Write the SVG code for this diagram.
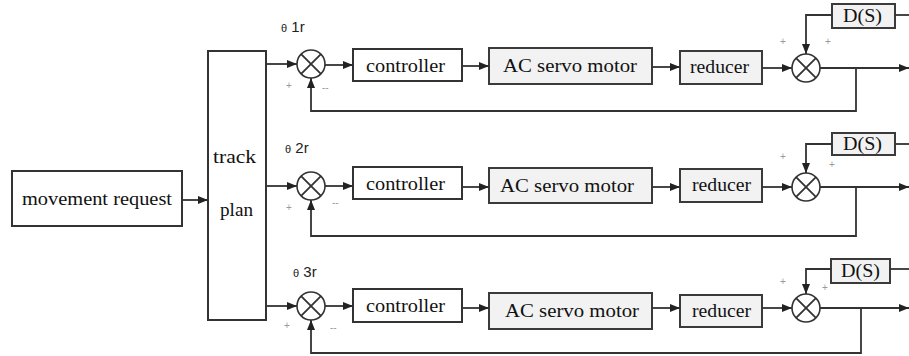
<svg xmlns="http://www.w3.org/2000/svg" width="909" height="356" viewBox="0 0 909 356">
<defs>
<marker id="ah" markerUnits="userSpaceOnUse" markerWidth="10" markerHeight="8" refX="10" refY="4" orient="auto">
<path d="M0,0 L10,4 L0,8 z" fill="#222"/>
</marker>
<style>
.box{fill:#fff;stroke:#333;stroke-width:2}
.gbox{fill:#f2f2f2;stroke:#3a3a3a;stroke-width:2}
.t{font-family:"Liberation Serif",serif;font-size:18px;fill:#111}
.lbl{font-family:"Liberation Sans",sans-serif;font-size:15px;fill:#222}
.th{font-family:"Liberation Sans",sans-serif;font-size:11px;fill:#222}
.sg{font-family:"Liberation Sans",sans-serif;font-size:10px;fill:#999}
.ln{fill:none;stroke:#333;stroke-width:1.8}
.ar{fill:none;stroke:#333;stroke-width:1.8;marker-end:url(#ah)}
.sum{fill:#fff;stroke:#333;stroke-width:1.6}
</style>
</defs>
<rect width="909" height="356" fill="#fff"/>

<g id="movement-request">
<rect class="box" x="12" y="171" width="170" height="55"/>
<text class="t" x="22" y="205" textLength="150" lengthAdjust="spacingAndGlyphs">movement request</text>
</g>
<g id="track-plan">
<rect class="box" x="208" y="51" width="58" height="269"/>
<text class="t" x="213" y="163" textLength="43" lengthAdjust="spacingAndGlyphs">track</text>
<text class="t" x="220" y="216" textLength="33" lengthAdjust="spacingAndGlyphs">plan</text>
</g>

<!-- Row 1 -->
<g id="sum1a"><circle class="sum" cx="311" cy="64" r="14"/><path class="ln" d="M301.1,54.1 L320.9,73.9 M320.9,54.1 L301.1,73.9"/></g>
<g id="controller1"><rect class="box" x="353" y="49" width="109" height="32"/><text class="t" x="366" y="72" textLength="79" lengthAdjust="spacingAndGlyphs">controller</text></g>
<g id="motor1"><rect class="gbox" x="489" y="48" width="163" height="36"/><text class="t" x="503" y="72" textLength="134" lengthAdjust="spacingAndGlyphs">AC servo motor</text></g>
<g id="reducer1"><rect class="gbox" x="680" y="51" width="82" height="33"/><text class="t" x="690" y="73" textLength="59" lengthAdjust="spacingAndGlyphs">reducer</text></g>
<g id="sum1b"><circle class="sum" cx="806" cy="68" r="14"/><path class="ln" d="M796.1,58.1 L815.9,77.9 M815.9,58.1 L796.1,77.9"/></g>
<g id="ds1"><rect class="gbox" x="832" y="4" width="63" height="24"/><text class="t" x="843" y="22" textLength="39" lengthAdjust="spacingAndGlyphs">D(S)</text></g>

<!-- Row 2 -->
<g id="sum2a"><circle class="sum" cx="311" cy="186" r="14"/><path class="ln" d="M301.1,176.1 L320.9,195.9 M320.9,176.1 L301.1,195.9"/></g>
<g id="controller2"><rect class="box" x="353" y="167" width="109" height="32"/><text class="t" x="366" y="190" textLength="79" lengthAdjust="spacingAndGlyphs">controller</text></g>
<g id="motor2"><rect class="gbox" x="489" y="168" width="163" height="35"/><text class="t" x="500" y="192" textLength="134" lengthAdjust="spacingAndGlyphs">AC servo motor</text></g>
<g id="reducer2"><rect class="gbox" x="680" y="169" width="82" height="33"/><text class="t" x="692" y="191" textLength="59" lengthAdjust="spacingAndGlyphs">reducer</text></g>
<g id="sum2b"><circle class="sum" cx="806" cy="187" r="14"/><path class="ln" d="M796.1,177.1 L815.9,196.9 M815.9,177.1 L796.1,196.9"/></g>
<g id="ds2"><rect class="gbox" x="832" y="133" width="63" height="22"/><text class="t" x="843" y="150" textLength="39" lengthAdjust="spacingAndGlyphs">D(S)</text></g>

<!-- Row 3 -->
<g id="sum3a"><circle class="sum" cx="311" cy="306" r="14"/><path class="ln" d="M301.1,296.1 L320.9,315.9 M320.9,296.1 L301.1,315.9"/></g>
<g id="controller3"><rect class="box" x="353" y="289" width="109" height="33"/><text class="t" x="366" y="312" textLength="79" lengthAdjust="spacingAndGlyphs">controller</text></g>
<g id="motor3"><rect class="gbox" x="489" y="293" width="163" height="36"/><text class="t" x="505" y="317" textLength="134" lengthAdjust="spacingAndGlyphs">AC servo motor</text></g>
<g id="reducer3"><rect class="gbox" x="680" y="295" width="82" height="32"/><text class="t" x="692" y="317" textLength="59" lengthAdjust="spacingAndGlyphs">reducer</text></g>
<g id="sum3b"><circle class="sum" cx="806" cy="308" r="14"/><path class="ln" d="M796.1,298.1 L815.9,317.9 M815.9,298.1 L796.1,317.9"/></g>
<g id="ds3"><rect class="gbox" x="831" y="259" width="59" height="24"/><text class="t" x="841" y="277" textLength="39" lengthAdjust="spacingAndGlyphs">D(S)</text></g>

<g id="labels">
<text class="lbl" x="281" y="32"><tspan class="th">θ</tspan> 1r</text>
<text class="lbl" x="285" y="153"><tspan class="th">θ</tspan> 2r</text>
<text class="lbl" x="293" y="277"><tspan class="th">θ</tspan> 3r</text>
<text class="sg" x="286" y="89">+</text>
<text class="sg" x="322" y="91">--</text>
<text class="sg" x="286" y="211">+</text>
<text class="sg" x="332" y="206">--</text>
<text class="sg" x="284" y="329">+</text>
<text class="sg" x="330" y="331">--</text>
<text class="sg" x="780" y="45">+</text>
<text class="sg" x="825" y="45">+</text>
<text class="sg" x="780" y="160">+</text>
<text class="sg" x="829" y="168">+</text>
<text class="sg" x="780" y="285">+</text>
<text class="sg" x="822" y="291">+</text>
</g>

<g id="connectors">
<path class="ar" d="M182,200 L208,200"/>
<!-- row1 -->
<path class="ar" d="M266,64 L297,64"/>
<path class="ar" d="M325,65 L353,65"/>
<path class="ar" d="M462,66 L489,66"/>
<path class="ar" d="M652,67 L680,67"/>
<path class="ar" d="M762,68 L792,68"/>
<path class="ar" d="M820,68 L909,68"/>
<path class="ar" d="M856,68 L856,111 L311,111 L311,78"/>
<path class="ln" d="M895,15 L909,15"/>
<path class="ar" d="M832,15 L806,15 L806,54"/>
<!-- row2 -->
<path class="ar" d="M266,186 L297,186"/>
<path class="ar" d="M325,186 L353,186"/>
<path class="ar" d="M462,187 L489,187"/>
<path class="ar" d="M652,187 L680,187"/>
<path class="ar" d="M762,187 L792,187"/>
<path class="ar" d="M820,187 L909,187"/>
<path class="ar" d="M856,187 L856,236 L311,236 L311,200"/>
<path class="ln" d="M895,144 L909,144"/>
<path class="ar" d="M832,144 L806,144 L806,173"/>
<!-- row3 -->
<path class="ar" d="M266,306 L297,306"/>
<path class="ar" d="M325,306 L353,306"/>
<path class="ar" d="M462,308 L489,308"/>
<path class="ar" d="M652,308 L680,308"/>
<path class="ar" d="M762,308 L792,308"/>
<path class="ar" d="M820,308 L909,308"/>
<path class="ar" d="M861,308 L861,353 L311,353 L311,320"/>
<path class="ln" d="M890,269 L909,269"/>
<path class="ar" d="M831,269 L806,269 L806,294"/>
</g>
</svg>
